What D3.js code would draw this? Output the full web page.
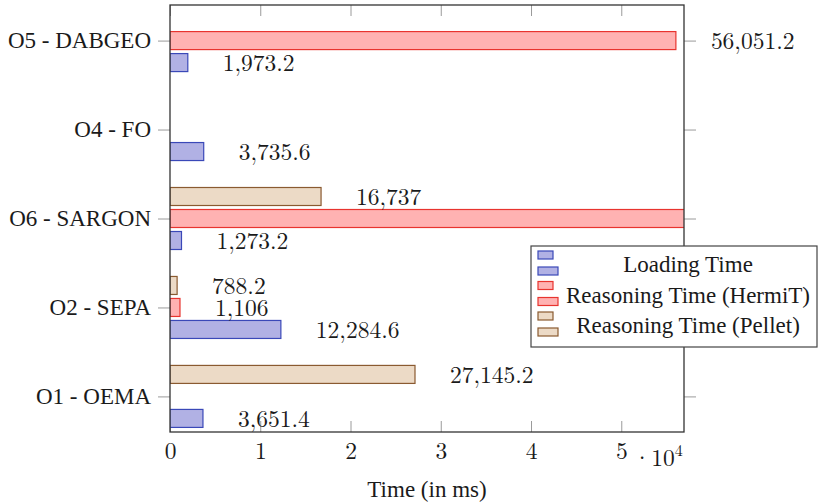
<!DOCTYPE html>
<html>
<head>
<meta charset="utf-8">
<script src="https://cdn.jsdelivr.net/npm/d3@7"></script>
<style>
  body { margin: 0; background: #fff; }
</style>
</head>
<body>
<div id="chart"></div>
<script>
// categories, bottom to top
const categories = ["O1 - OEMA", "O2 - SEPA", "O6 - SARGON", "O4 - FO", "O5 - DABGEO"];
const seriesNames = ["Loading Time", "Reasoning Time (HermiT)", "Reasoning Time (Pellet)"];
// null = no bar
const loadingTime = [3651.4, 12284.6, 1273.2, 3735.6, 1973.2];
const hermitTime = [null, 1106, 75000, null, 56051.2];
const pelletTime = [27145.2, 788.2, 16737, null, null];
const xTicks = [0, 10000, 20000, 30000, 40000, 50000];

const W = 822, H = 503;
const plotL = 170, plotR = 684, plotT = 5, plotB = 432;
const textFont = '"Liberation Serif", serif';
const numFont = '"Latin Modern Roman", "Liberation Serif", serif';
const textSize = "23px", numSize = "23.5px";

const series = [
  { name: seriesNames[0], values: loadingTime, fill: "#b1b1e4", stroke: "#3a48b8", off: 22 },
  { name: seriesNames[1], values: hermitTime, fill: "#ffb2b2", stroke: "#e8342f", off: 0 },
  { name: seriesNames[2], values: pelletTime, fill: "#ecdac6", stroke: "#8a5a30", off: -22 },
];

const svg = d3.select("#chart").append("svg").attr("width", W).attr("height", H);

const x = d3.scaleLinear().domain([0, 56950]).range([plotL, plotR]);
const y = d3.scaleLinear().domain([-0.4, 4.4]).range([plotB, plotT]);
const barH = 18;

svg.append("clipPath").attr("id", "plot-clip")
  .append("rect").attr("x", plotL).attr("y", plotT).attr("width", plotR - plotL).attr("height", plotB - plotT);

// ticks
const tickStyle = (font, size) => (g) => {
  g.select(".domain").remove();
  g.selectAll(".tick line").attr("stroke", "#9a9a9a").attr("stroke-width", 1);
  g.selectAll(".tick text").attr("fill", "#1a1a1a")
    .style("font-family", font).style("font-size", size);
};
svg.append("g").attr("transform", `translate(0,${plotB})`)
  .call(d3.axisBottom(x).tickValues(xTicks).tickFormat((d) => d / 10000).tickSize(-11).tickPadding(10))
  .call(tickStyle(numFont, numSize));
svg.append("g").attr("transform", `translate(0,${plotT})`)
  .call(d3.axisTop(x).tickValues(xTicks).tickFormat("").tickSize(-11))
  .call(tickStyle(numFont, numSize));
svg.append("g").attr("transform", `translate(${plotL},0)`)
  .call(d3.axisLeft(y).tickValues(d3.range(categories.length)).tickFormat((i) => categories[i]).tickSize(12).tickPadding(7))
  .call(tickStyle(textFont, textSize));
svg.append("g").attr("transform", `translate(${plotR},0)`)
  .call(d3.axisRight(y).tickValues(d3.range(categories.length)).tickFormat("").tickSize(12))
  .call(tickStyle(textFont, textSize));

// bars
const fmt = d3.format(",");
series.forEach((s) => {
  const data = s.values.map((v, i) => ({ v, i })).filter((d) => d.v != null);
  svg.append("g").attr("clip-path", "url(#plot-clip)")
    .selectAll("rect").data(data).join("rect")
    .attr("x", x(0))
    .attr("y", (d) => y(d.i) + s.off - barH / 2)
    .attr("width", (d) => x(d.v) - x(0))
    .attr("height", barH)
    .attr("fill", s.fill)
    .attr("stroke", s.stroke)
    .attr("stroke-width", 1.2);
  // labels of bars running past the axis end up off the page, skip them
  svg.append("g").selectAll("text").data(data.filter((d) => d.v <= x.domain()[1])).join("text")
    .attr("x", (d) => x(d.v) + 35)
    .attr("y", (d) => y(d.i) + s.off)
    .attr("dy", "0.35em")
    .attr("fill", "#1a1a1a")
    .style("font-family", numFont).style("font-size", numSize)
    .text((d) => fmt(d.v));
});

// frame
svg.append("rect").attr("x", plotL).attr("y", plotT).attr("width", plotR - plotL).attr("height", plotB - plotT)
  .attr("fill", "none").attr("stroke", "#333").attr("stroke-width", 1.3);

// axis labels
svg.append("text").attr("x", (plotL + plotR) / 2).attr("y", 497).attr("text-anchor", "middle")
  .attr("fill", "#1a1a1a").style("font-family", textFont).style("font-size", textSize)
  .text("Time (in ms)");
const mult = svg.append("text").attr("x", 633).attr("y", 466).attr("fill", "#1a1a1a")
  .style("font-family", numFont).style("font-size", numSize);
mult.append("tspan").text("·10");
mult.append("tspan").attr("dy", -10).style("font-size", "16px").text("4");

// legend
const lg = svg.append("g");
lg.append("rect").attr("x", 531).attr("y", 246).attr("width", 286).attr("height", 101)
  .attr("fill", "#fff").attr("stroke", "#444").attr("stroke-width", 1.2);
series.forEach((s, k) => {
  const ry = 251 + k * 30.5;
  lg.append("rect").attr("x", 538).attr("y", ry).attr("width", 15).attr("height", 8)
    .attr("fill", s.fill).attr("stroke", s.stroke).attr("stroke-width", 1.2);
  lg.append("rect").attr("x", 538).attr("y", ry + 16).attr("width", 20).attr("height", 8)
    .attr("fill", s.fill).attr("stroke", s.stroke).attr("stroke-width", 1.2);
  lg.append("text").attr("x", 688).attr("y", ry + 21).attr("text-anchor", "middle")
    .attr("fill", "#1a1a1a").style("font-family", textFont).style("font-size", textSize)
    .text(s.name);
});
</script>
</body>
</html>
